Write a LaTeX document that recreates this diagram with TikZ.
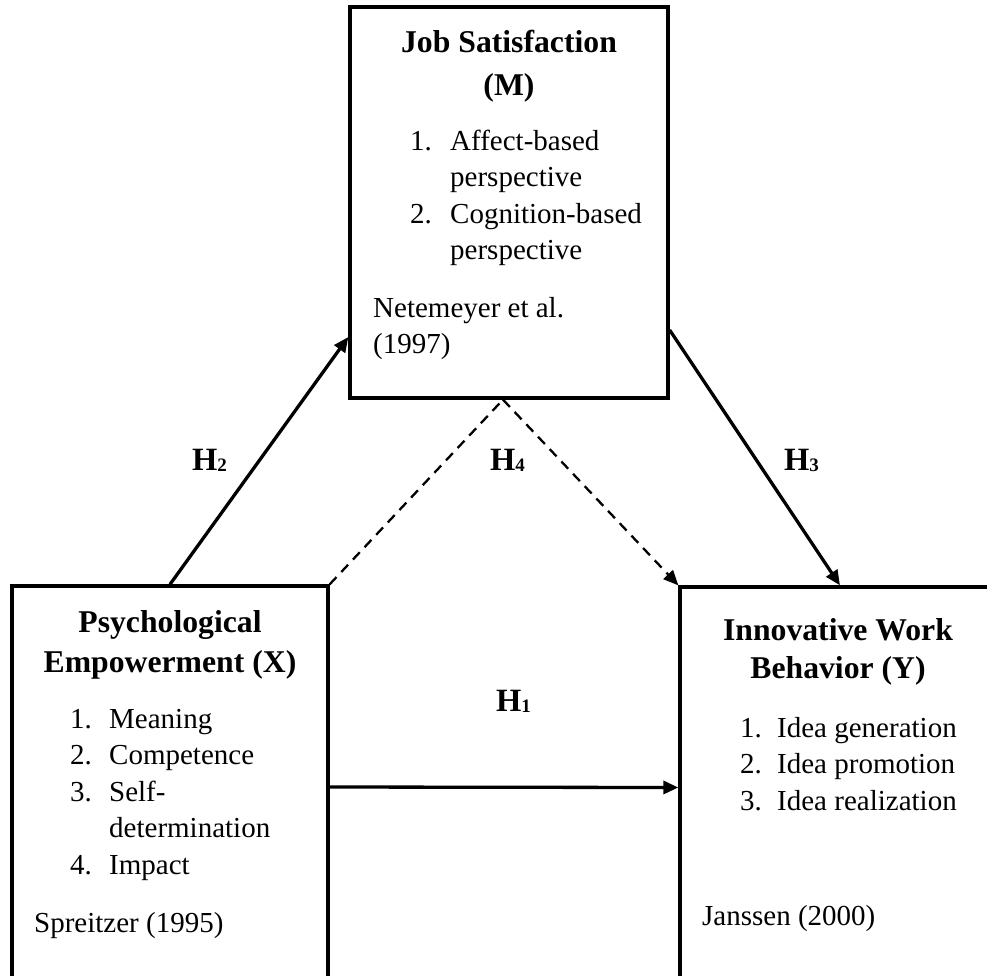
\documentclass[tikz,border=0pt]{standalone}
\usepackage{fontspec}
\setmainfont{Liberation Serif}
\usetikzlibrary{arrows.meta}
\tikzset{
  box/.style={draw, line width=3.3pt, inner sep=0pt},
  conn/.style={line width=3.3pt, -{Triangle[length=15pt,width=13pt]}},
  dconn/.style={line width=2.3pt, dash pattern=on 10pt off 7pt},
  headtxt/.style={anchor=base, inner sep=0pt, font=\fontsize{31.7}{#1}\bfseries\selectfont},
  bodytxt/.style={anchor=base west, inner sep=0pt, font=\fontsize{29}{36.6}\selectfont},
  hlab/.style={anchor=base west, inner sep=0pt, font=\fontsize{32.5}{33}\bfseries\selectfont},
}
\newcommand{\hsub}[1]{\raisebox{-1pt}{\fontsize{19}{19}\selectfont #1}}
\newcommand{\itm}[1]{\makebox[#1][l]}
\begin{document}
\begin{tikzpicture}[x=1pt,y=-1pt]
\useasboundingbox (0,0) rectangle (987,975);
\clip (0,0) rectangle (987,975);
\fill[white] (0,0) rectangle (987,975);
% boxes
\node[box, minimum width=318pt, minimum height=391pt] (M) at (509,202.5) {};
\node[box, minimum width=316pt, minimum height=402pt] (X) at (170,787) {};
\node[box, minimum width=320pt, minimum height=401pt] (Y) at (840,787.5) {};
% M texts
\node[headtxt=43] (Mh) at (509,52) {\begin{tabular}[t]{@{}c@{}}Job Satisfaction\\(M)\end{tabular}};
\node[bodytxt] (Ml) at (410,150) {\begin{tabular}[t]{@{}l@{}}\itm{40pt}{1.}Affect-based\\\hspace*{40pt}perspective\\\itm{40pt}{2.}Cognition-based\\\hspace*{40pt}perspective\end{tabular}};
\node[bodytxt] (Mr) at (373,317) {\begin{tabular}[t]{@{}l@{}}Netemeyer et al.\\(1997)\end{tabular}};
% X texts
\node[headtxt=40] (Xh) at (170,632) {\begin{tabular}[t]{@{}c@{}}Psychological\\Empowerment (X)\end{tabular}};
\node[bodytxt] (Xl) at (70,728) {\begin{tabular}[t]{@{}l@{}}\itm{39pt}{1.}Meaning\\\itm{39pt}{2.}Competence\\\itm{39pt}{3.}Self-\\\hspace*{39pt}determination\\\itm{39pt}{4.}Impact\end{tabular}};
\node[bodytxt] (Xr) at (34,932) {Spreitzer (1995)};
% Y texts
\node[headtxt=38.3] (Yh) at (838,640) {\begin{tabular}[t]{@{}c@{}}Innovative Work\\Behavior (Y)\end{tabular}};
\node[bodytxt] (Yl) at (740,737) {\begin{tabular}[t]{@{}l@{}}\itm{37pt}{1.}Idea generation\\\itm{37pt}{2.}Idea promotion\\\itm{37pt}{3.}Idea realization\end{tabular}};
\node[bodytxt] (Yr) at (702,925) {Janssen (2000)};
% connectors
\coordinate (apex) at ([xshift=-6pt]M.south);
\draw[conn] (X.north) -- ([yshift=-134.5pt]M.west);
\draw[conn] ([yshift=-127.5pt]M.east) -- (Y.north);
\draw[conn] (X.east) -- (Y.west);
\draw[dconn] (X.north east) -- (apex);
\draw[dconn, -{Triangle[length=15pt,width=13pt]}] (apex) -- (Y.north west);
% labels
\node[hlab] (H2) at (192,470) {H\hsub{2}};
\node[hlab] (H4) at (490,470) {H\hsub{4}};
\node[hlab] (H3) at (784,470) {H\hsub{3}};
\node[hlab] (H1) at (496,711) {H\hsub{1}};
\end{tikzpicture}
\end{document}
